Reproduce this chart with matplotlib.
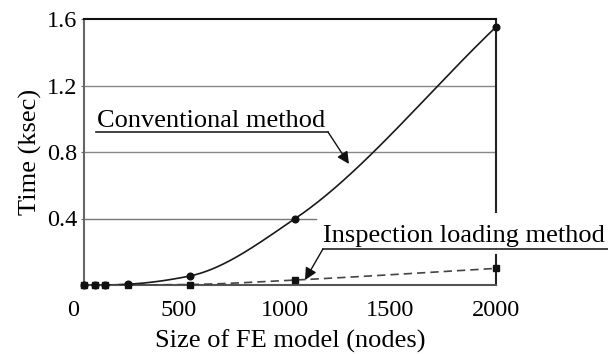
import numpy as np
import matplotlib
matplotlib.use("Agg")
import matplotlib.pyplot as plt

# Model sizes (nodes) and computation times (ksec)
nodes = [50, 100, 150, 260, 550, 1050, 2000]
conventional = [0.0, 0.0, 0.0, 0.005, 0.054, 0.40, 1.552]
inspection = [0.0, 0.0, 0.0, 0.0, 0.003, 0.03, 0.10]

x_ticks = [0, 500, 1000, 1500, 2000]
y_ticks = [0.4, 0.8, 1.2, 1.6]


def smooth(x, y, n=300):
    """Monotone cubic (Fritsch-Carlson) curve through the given points."""
    x = np.asarray(x, float)
    y = np.asarray(y, float)
    h = np.diff(x)
    d = np.diff(y) / h
    m = np.zeros_like(y)
    m[0], m[-1] = d[0], d[-1]
    for i in range(1, len(x) - 1):
        if d[i - 1] * d[i] <= 0:
            m[i] = 0.0
        else:
            w1 = 2 * h[i] + h[i - 1]
            w2 = h[i] + 2 * h[i - 1]
            m[i] = (w1 + w2) / (w1 / d[i - 1] + w2 / d[i])
    xs = np.linspace(x[0], x[-1], n)
    k = np.clip(np.searchsorted(x, xs) - 1, 0, len(x) - 2)
    t = (xs - x[k]) / h[k]
    h00 = 2 * t**3 - 3 * t**2 + 1
    h10 = t**3 - 2 * t**2 + t
    h01 = -2 * t**3 + 3 * t**2
    h11 = t**3 - t**2
    ys = h00 * y[k] + h10 * h[k] * m[k] + h01 * y[k + 1] + h11 * h[k] * m[k + 1]
    return xs, ys


plt.rcParams["font.family"] = ["Liberation Serif", "DejaVu Serif"]
TICK_FS = 17.5
LABEL_FS = 19
NOTE_FS = 19

fig = plt.figure(figsize=(6.08, 3.54), dpi=100)
ax = fig.add_axes([84 / 608, 69 / 354, 412 / 608, 266 / 354])
ax.set_xlim(50, 2000)
ax.set_ylim(0, 1.6)

# Horizontal reference lines
ax.plot([50, 1150], [0.4, 0.4], color="#777777", lw=1.0, zorder=1)
for yv in (0.8, 1.2):
    ax.axhline(yv, color="#888888", lw=1.0, zorder=1)

# Curves
xs, ys = smooth(nodes, conventional)
ax.plot(xs, ys, color="#1a1a1a", lw=1.2, zorder=3)
ax.plot(nodes, conventional, "o", color="#111111", ms=4.8, zorder=5, clip_on=False)

xs2, ys2 = smooth(nodes, inspection)
ax.plot(xs2, ys2, color="#444444", lw=1.2, ls=(0, (5, 3)), zorder=3)
ax.plot(nodes, inspection, "s", color="#111111", ms=4, zorder=5, clip_on=False)

# Frame
ax.spines["right"].set_visible(False)
ax.spines["top"].set_color("#111111")
ax.spines["top"].set_linewidth(1.5)
ax.spines["left"].set_color("#666666")
ax.spines["left"].set_linewidth(1.5)
ax.spines["bottom"].set_color("#555555")
ax.spines["bottom"].set_linewidth(1.5)
ax.plot([2000, 2000], [0.44, 1.6], color="#222222", lw=1.5, clip_on=False, zorder=2)
ax.plot([2000, 2000], [0, 0.18], color="#222222", lw=1.5, clip_on=False, zorder=2)

# Ticks
ax.set_xticks(x_ticks[1:])
ax.set_xticklabels([str(v) for v in x_ticks[1:]])
ax.set_yticks(y_ticks)
ax.set_yticklabels([f"{v:.1f}" for v in y_ticks])
ax.tick_params(axis="x", length=0, labelsize=TICK_FS, pad=11)
ax.tick_params(axis="y", length=2, labelsize=TICK_FS, pad=3, color="#666666")
x0_lbl = ax.text(x_ticks[0], 0, str(x_ticks[0]), fontsize=TICK_FS,
                 ha="center", va="top", clip_on=False,
                 transform=ax.get_xaxis_transform())
fig.canvas.draw()
ref_lbl = ax.get_xticklabels()[0]
x0_lbl.set_y(ax.transAxes.inverted().transform(
    ref_lbl.get_window_extent().corners()[1])[1])

ax.set_xlabel("Size of FE model (nodes)", fontsize=LABEL_FS, labelpad=6)
ax.set_ylabel("Time (ksec)", fontsize=LABEL_FS, labelpad=3)

# Callout labels
ax.text(112, 0.95, "Conventional method", fontsize=NOTE_FS, ha="left",
        va="baseline", clip_on=False)
ax.plot([107, 1205], [0.92, 0.92], color="#222222", lw=1.2, clip_on=False)
ax.annotate("", xy=(1304, 0.728), xytext=(1205, 0.92),
            arrowprops=dict(arrowstyle="-|>", color="#111111", lw=1.0,
                            mutation_scale=18, shrinkA=0, shrinkB=0))

ax.text(1183, 0.259, "Inspection loading method", fontsize=NOTE_FS, ha="left",
        va="baseline", clip_on=False)
ax.plot([1181, 2600], [0.217, 0.217], color="#222222", lw=1.2, clip_on=False)
ax.annotate("", xy=(1096, 0.03), xytext=(1181, 0.217),
            arrowprops=dict(arrowstyle="-|>", color="#111111", lw=1.0,
                            mutation_scale=18, shrinkA=0, shrinkB=0))

fig.savefig("out.png", dpi=100)
